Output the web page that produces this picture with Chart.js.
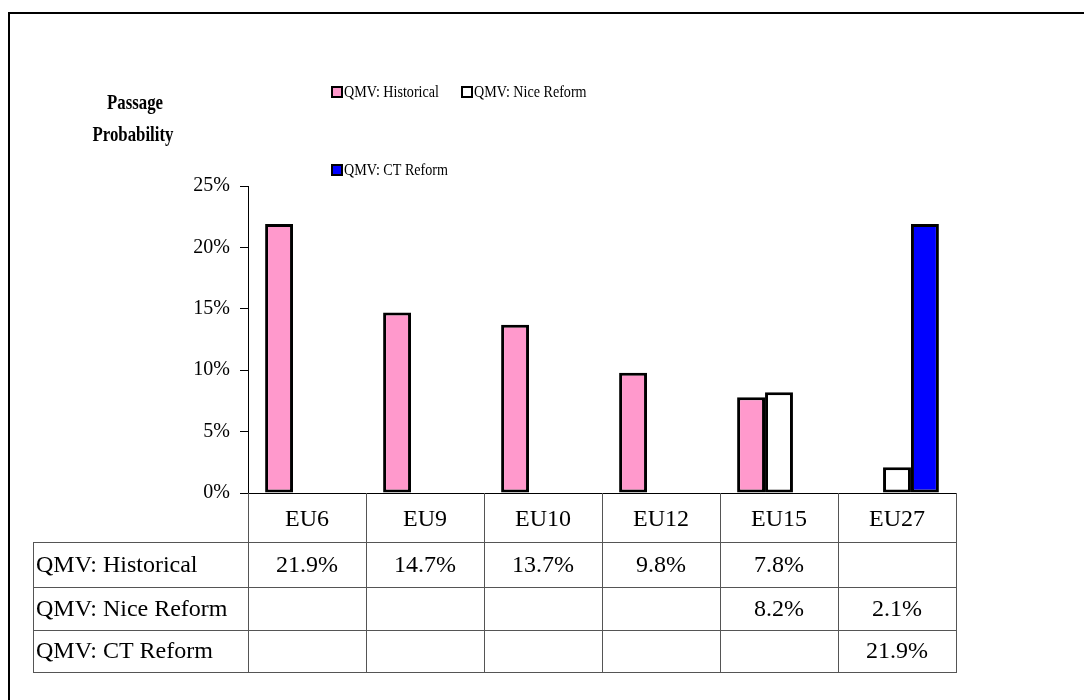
<!DOCTYPE html>
<html>
<head>
<meta charset="utf-8">
<script src="https://cdn.jsdelivr.net/npm/chart.js@4"></script>
<style>
html,body{margin:0;padding:0;background:#fff;}
#wrap{width:1084px;height:700px;}
</style>
</head>
<body>
<div id="wrap"><canvas id="c" width="1084" height="700"></canvas></div>
<script>
const categories = ['EU6', 'EU9', 'EU10', 'EU12', 'EU15', 'EU27'];
const seriesNames = ['QMV: Historical', 'QMV: Nice Reform', 'QMV: CT Reform'];
const historical = [21.9, 14.7, 13.7, 9.8, 7.8, null];
const niceReform = [null, null, null, null, 8.2, 2.1];
const ctReform = [null, null, null, null, null, 21.9];
const yTicks = [0, 5, 10, 15, 20, 25];
const axisTitle = ['Passage', 'Probability'];

const colors = ['#FF99CC', '#FFFFFF', '#0000FF'];
const SERIF = '"Liberation Serif", "Times New Roman", serif';

function condensedText(ctx, text, x, y, align, sx) {
  ctx.save();
  ctx.translate(x, y);
  ctx.scale(sx, 1);
  ctx.textAlign = align;
  ctx.fillText(text, 0, 0);
  ctx.restore();
}

const decorPlugin = {
  id: 'decor',
  afterDraw(chart) {
    const ctx = chart.ctx;
    const x = chart.scales.x;
    const area = chart.chartArea;
    ctx.save();
    // outer frame
    ctx.strokeStyle = '#000';
    ctx.lineWidth = 2;
    ctx.strokeRect(9, 13, 1200, 800);

    // axis title
    ctx.fillStyle = '#000';
    ctx.font = 'bold 21px ' + SERIF;
    ctx.textBaseline = 'middle';
    condensedText(ctx, axisTitle[0], 135, 104, 'center', 0.8);
    condensedText(ctx, axisTitle[1], 133, 136, 'center', 0.8);

    // legend
    const legendPos = [[332, 92], [462, 92], [332, 170]];
    ctx.font = '17px ' + SERIF;
    chart.data.datasets.forEach((ds, i) => {
      const [lx, ly] = legendPos[i];
      ctx.fillStyle = ds.backgroundColor;
      ctx.fillRect(lx, ly - 5, 10, 10);
      ctx.strokeStyle = '#000';
      ctx.lineWidth = 2;
      ctx.strokeRect(lx, ly - 5, 10, 10);
      ctx.fillStyle = '#000';
      condensedText(ctx, ds.label, lx + 12, ly + 1, 'left', 0.83);
    });

    // data table
    const n = categories.length;
    const half = (x.getPixelForValue(1) - x.getPixelForValue(0)) / 2;
    const right = x.getPixelForValue(n - 1) + half;
    const tableLeft = 33;
    const rows = [area.bottom, 542, 587, 630, 672];
    ctx.strokeStyle = '#555';
    ctx.lineWidth = 1;
    ctx.beginPath();
    for (let i = 0; i <= n; i++) {
      const px = Math.round(x.getPixelForValue(i) - half) + 0.5;
      ctx.moveTo(px, rows[0]);
      ctx.lineTo(px, rows[4]);
    }
    ctx.moveTo(tableLeft + 0.5, rows[1]);
    ctx.lineTo(tableLeft + 0.5, rows[4]);
    for (let r = 1; r <= 4; r++) {
      ctx.moveTo(tableLeft, rows[r] + 0.5);
      ctx.lineTo(right + 1, rows[r] + 0.5);
    }
    ctx.stroke();

    ctx.fillStyle = '#000';
    ctx.font = '24px ' + SERIF;
    ctx.textBaseline = 'middle';
    chart.data.datasets.forEach((ds, r) => {
      const cy = (rows[r + 1] + rows[r + 2]) / 2 + 1;
      ctx.textAlign = 'left';
      ctx.fillText(ds.label, tableLeft + 3, cy);
      ctx.textAlign = 'center';
      ds.data.forEach((v, i) => {
        if (v === null || v === undefined) return;
        ctx.fillText(v.toFixed(1) + '%', x.getPixelForValue(i), cy);
      });
    });
    ctx.restore();
  }
};

new Chart(document.getElementById('c'), {
  type: 'bar',
  data: {
    labels: categories,
    datasets: [
      { label: seriesNames[0], data: historical, backgroundColor: colors[0] },
      { label: seriesNames[1], data: niceReform, backgroundColor: colors[1] },
      { label: seriesNames[2], data: ctReform, backgroundColor: colors[2] }
    ]
  },
  options: {
    responsive: false,
    animation: false,
    devicePixelRatio: 1,
    layout: { padding: { left: 0, right: 128, top: 186, bottom: 0 } },
    datasets: {
      bar: {
        borderColor: '#000',
        borderWidth: 3,
        borderSkipped: false,
        categoryPercentage: 0.71,
        barPercentage: 1.0
      }
    },
    plugins: {
      legend: { display: false },
      tooltip: { enabled: false }
    },
    scales: {
      x: {
        grid: { display: false, drawTicks: false },
        border: { display: true, color: '#000', width: 1 },
        ticks: {
          color: '#000',
          padding: 12,
          font: { family: SERIF, size: 24 }
        },
        afterFit(scale) { scale.height = 207; }
      },
      y: {
        min: 0,
        max: 25,
        afterBuildTicks(scale) { scale.ticks = yTicks.map(v => ({ value: v })); },
        grid: { drawOnChartArea: false, drawTicks: true, tickLength: 8, color: '#000' },
        border: { display: true, color: '#000', width: 1 },
        ticks: {
          color: '#000',
          padding: 10,
          font: { family: SERIF, size: 20 },
          callback: v => v + '%'
        },
        afterFit(scale) { scale.width = 248; }
      }
    }
  },
  plugins: [decorPlugin]
});
</script>
</body>
</html>
